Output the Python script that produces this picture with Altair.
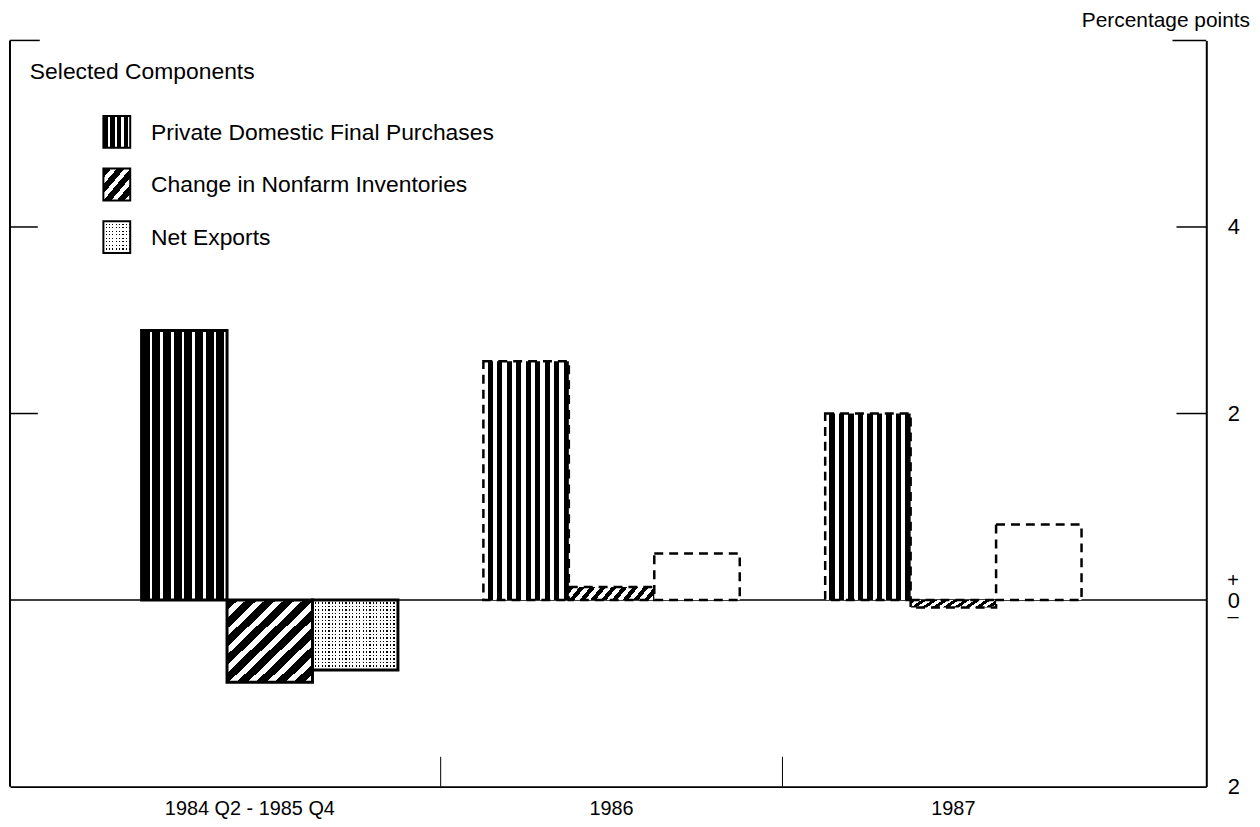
import altair as alt
import pandas as pd

# ---------------- data ----------------
periods = ["1984 Q2 - 1985 Q4", "1986", "1987"]
series = ["Private Domestic Final Purchases", "Change in Nonfarm Inventories", "Net Exports"]
pdfp = [2.89, 2.56, 2.00]
inventories = [-0.88, 0.14, -0.08]
net_exports = [-0.75, 0.50, 0.81]
projected = [False, True, True]

y_axis_values = [-2, 0, 2, 4]
frame_tick_values = [2, 4]
zero_value = [0]
legend_title = "Selected Components"
unit_label = "Percentage points"

rows = []
for i, p in enumerate(periods):
    for s, vals in zip(series, [pdfp, inventories, net_exports]):
        rows.append({"period": p, "series": s, "value": vals[i], "projected": projected[i]})
df = pd.DataFrame(rows)

# ---------------- layout / style ----------------
W, H = 1204, 751
FONT = "Liberation Sans, Arial, Helvetica, sans-serif"
CLEAR = "rgba(255,255,255,0)"


def stripes(n, dark_frac, x2, y2, dark="black", light="white", dark_first=True):
    stops = []
    for k in range(n):
        a = k / n
        b = (k + dark_frac) / n
        c = (k + 1) / n
        c1, c2 = (dark, light) if dark_first else (light, dark)
        stops += [alt.GradientStop(color=c1, offset=a), alt.GradientStop(color=c1, offset=b),
                  alt.GradientStop(color=c2, offset=b), alt.GradientStop(color=c2, offset=c)]
    return alt.LinearGradient(gradient="linear", stops=stops, x1=0, y1=0, x2=x2, y2=y2)


vstripe_dark = stripes(8, 0.76, 1, 0)
vstripe_light = stripes(9, 0.45, 1, 0, dark_first=False)
hatch_square = stripes(9, 0.58, 1, 1)
hatch_flat = stripes(9, 0.5, 1.108, 0.1385)
legend_vstripe = stripes(4, 0.7, 1, 0)
legend_hatch = stripes(4, 0.58, 1, 1)
# dot pattern = dotted columns under a white mask with clear rows
dot_cols = stripes(25, 0.65, 1, 0, dark="white", light="black")
dot_rows = stripes(20, 0.65, 0, 1, dark="white", light=CLEAR)
legend_dot_cols = stripes(8, 0.65, 1, 0, dark="white", light="black")
legend_dot_rows = stripes(9, 0.65, 0, 1, dark="white", light=CLEAR)

x_scale = alt.Scale(domain=periods, paddingInner=0, paddingOuter=0.25, align=0.52)
x_axis = alt.Axis(title=None, labelAngle=0, ticks=False, domain=True, domainColor="black",
                  domainWidth=2, labelFontSize=20, labelPadding=12, labelColor="black",
                  labelFont=FONT, labelBaseline="top",
                  labelOffset={"condition": {"test": "datum.value === '1984 Q2 - 1985 Q4'",
                                             "value": -20}, "value": 0})
x_enc = alt.X("period:N", sort=periods, scale=x_scale, axis=x_axis)
xo_enc = alt.XOffset("series:N", sort=series,
                     scale=alt.Scale(domain=series, paddingInner=0, paddingOuter=0.5))
y_enc = alt.Y(
    "value:Q",
    scale=alt.Scale(domain=[-2, 6], nice=False, zero=False),
    axis=alt.Axis(orient="right", values=y_axis_values, title=None, ticks=False, grid=False,
                  domain=True, domainColor="black", domainWidth=2, labelFontSize=22,
                  labelFont=FONT, labelColor="black", labelPadding=21, labelAlign="left",
                  labelBaseline="middle", labelOverlap=False, labelFlush=False,
                  labelExpr="format(abs(datum.value), 'd')"),
)

base = alt.Chart(df)


def bar_layer(s, proj, fill, dashed, stroke=True):
    kw = dict(fill=fill)
    if stroke:
        kw.update(stroke="black", strokeWidth=2.5 if dashed else 3)
        if dashed:
            kw["strokeDash"] = [9, 6]
    else:
        kw.update(strokeWidth=0)
    return base.transform_filter(
        (alt.datum.series == s) & (alt.datum.projected == proj)
    ).mark_bar(**kw).encode(x=x_enc, xOffset=xo_enc, y=y_enc, y2=alt.datum(0))


bars = [
    bar_layer(series[0], False, vstripe_dark, False),
    bar_layer(series[0], True, vstripe_light, True),
    bar_layer(series[1], False, hatch_square, False),
    bar_layer(series[1], True, hatch_flat, True),
    bar_layer(series[2], False, dot_cols, False, stroke=False),
    bar_layer(series[2], False, dot_rows, False, stroke=False),
    bar_layer(series[2], False, CLEAR, False),
    bar_layer(series[2], True, "white", True),
]

zero_df = pd.DataFrame({"value": zero_value})
zero_rule = alt.Chart(zero_df).mark_rule(color="black", strokeWidth=1.5).encode(
    y=y_enc, x=alt.value(0), x2=alt.value(W))
sign_style = dict(font=FONT, fontSize=20, align="center", baseline="middle", color="black")
plus_sign = alt.Chart(zero_df).mark_text(text="+", dy=-19, **sign_style).encode(
    y=y_enc, x=alt.value(W + 27))
minus_sign = alt.Chart(zero_df).mark_text(text="\u2013", dy=17, **sign_style).encode(
    y=y_enc, x=alt.value(W + 27))

ticks_df = pd.DataFrame({"value": frame_tick_values})
left_ticks = alt.Chart(ticks_df).mark_rule(color="black", strokeWidth=1.5).encode(
    y=y_enc, x=alt.value(0), x2=alt.value(28))
right_ticks = alt.Chart(ticks_df).mark_rule(color="black", strokeWidth=1.5).encode(
    y=y_enc, x=alt.value(W - 30), x2=alt.value(W))

frame_df = pd.DataFrame({"k": [0]})
left_frame = alt.Chart(frame_df).mark_rule(color="black", strokeWidth=2).encode(
    x=alt.value(0), y=alt.value(0), y2=alt.value(H))
top_left = alt.Chart(frame_df).mark_rule(color="black", strokeWidth=1.5).encode(
    x=alt.value(0), x2=alt.value(30), y=alt.value(0))
top_right = alt.Chart(frame_df).mark_rule(color="black", strokeWidth=1.5).encode(
    x=alt.value(W - 34), x2=alt.value(W), y=alt.value(0))

sep_df = pd.DataFrame({"period": periods[1:]})
separators = alt.Chart(sep_df).mark_rule(color="black", strokeWidth=1).encode(
    x=alt.X("period:N", sort=periods, bandPosition=0, scale=x_scale, axis=x_axis),
    y=alt.value(H), y2=alt.value(H - 30))

# ---------------- legend ----------------
title_df = pd.DataFrame({"t": [legend_title]})
legend_head = alt.Chart(title_df).mark_text(
    font=FONT, fontSize=23, align="left", baseline="middle", color="black").encode(
    text="t:N", x=alt.value(20), y=alt.value(32))

unit_df = pd.DataFrame({"t": [unit_label]})
unit_text = alt.Chart(unit_df).mark_text(
    font=FONT, fontSize=21, align="right", baseline="alphabetic", color="black").encode(
    text="t:N", x=alt.value(W + 44), y=alt.value(-14))

legend_layers = []
swatch_fills = [[legend_vstripe], [legend_hatch], [legend_dot_cols, legend_dot_rows]]
for r, (s, fills) in enumerate(zip(series, swatch_fills)):
    cy = 92 + r * 53
    ldf = pd.DataFrame({"series": [s]})
    for f in fills:
        legend_layers.append(
            alt.Chart(ldf).mark_rect(fill=f, strokeWidth=0).encode(
                x=alt.value(94), x2=alt.value(121), y=alt.value(cy - 16), y2=alt.value(cy + 16)))
    legend_layers.append(
        alt.Chart(ldf).mark_rect(fill=CLEAR, stroke="black", strokeWidth=2).encode(
            x=alt.value(94), x2=alt.value(121), y=alt.value(cy - 16), y2=alt.value(cy + 16)))
    legend_layers.append(
        alt.Chart(ldf).mark_text(font=FONT, fontSize=23, align="left", baseline="middle",
                                 color="black").encode(
            text="series:N", x=alt.value(142), y=alt.value(cy + 1)))

chart = alt.layer(
    zero_rule, *bars, left_ticks, right_ticks, left_frame, top_left, top_right, separators,
    plus_sign, minus_sign, legend_head, unit_text, *legend_layers,
).properties(
    width=W, height=H,
    padding={"left": 2, "top": 30, "right": 46, "bottom": 38},
    autosize=alt.AutoSizeParams(type="none"),
    background="white",
).configure_view(stroke=None)

chart.save("out.html", embed_options={"renderer": "svg", "actions": False})
